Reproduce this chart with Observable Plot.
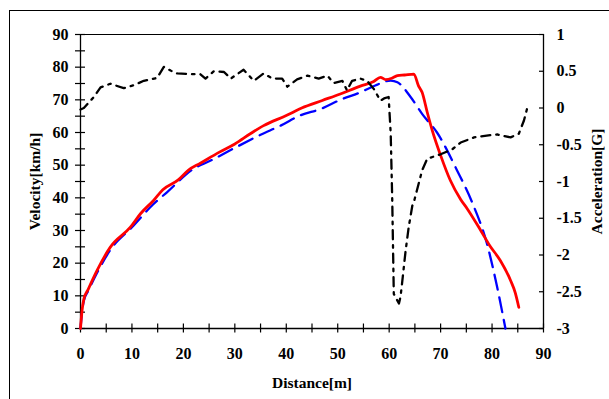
<!DOCTYPE html>
<html><head><meta charset="utf-8">
<script src="https://cdn.jsdelivr.net/npm/d3@7"></script>
<script src="https://cdn.jsdelivr.net/npm/@observablehq/plot@0.6"></script>
<style>
html,body{margin:0;padding:0;background:#fff;overflow:hidden;}
#wrap{position:relative;width:609px;height:399px;overflow:hidden;}
#border{position:absolute;left:9px;top:10px;width:800px;height:600px;border-left:1px solid #000;border-top:1px solid #000;pointer-events:none;}
</style></head><body>
<div id="wrap"><div id="chart"></div><div id="border"></div></div>
<script>
// Measured velocity (red, solid)
const redDist = [0,0.15,0.3,0.65,1.5,3.2,5.8,9.7,11.7,14.2,16,19,21,23.3,27,30,33,35.6,40,43,47,50.5,54.4,57,58.3,59.3,60.5,61.6,63,64.8,65.7,66.4,67.4,68.4,70,71.9,73.9,75.2,77.8,79.5,81.6,83.6,84.5,85.2];
const redVel  = [0,3,5.5,9,12,17.7,24.9,31,35.2,39.2,42.5,45.5,48.5,50.6,54,56.5,59.6,62.1,65.2,67.5,69.8,71.8,74.2,75.6,76.9,76.2,76.6,77.4,77.6,77.9,74.3,72.3,66.2,60.5,53,45.3,39.5,36.6,30,25.5,20.8,14.7,11,6.5];
// Simulated velocity (blue, dashed)
const blueDist = [0,0.3,0.65,1.5,3.2,6,10,14,16.8,22,25.3,30,35,38.9,42.8,46.7,50.5,54.4,57.3,60.3,61.6,64.2,66.4,69.3,73.2,76.1,79,81,82.6];
const blueVel  = [0,5,8.5,11.5,17,24.5,31,37.8,41.7,48.9,51.4,55.3,59.3,62.1,65.3,67.2,70,72.3,74.4,75.9,75.4,70.8,65.7,60,48.4,38.7,26,12.6,0];
// Acceleration [G] (black, dash-dot, right axis)
const accDist = [0,0.65,2.6,3.9,5.8,8.4,10.4,12.3,14.9,16.2,17.5,18.8,21.4,23.3,24.3,25.9,27.9,29.2,31.7,33.7,35.6,37.3,39.2,40.2,42.1,44.1,46.3,48,49.2,50.9,51.8,52.8,54.4,55.7,57,58.3,59,59.9,60.3,60.6,60.9,61.9,62.2,62.5,63.2,63.8,64.5,64.8,66.4,67.4,70,72.3,73.9,76.5,79.7,81,83.6,85.2,86.2,86.8];
const accG    = [-0.02,0.0,0.15,0.28,0.33,0.27,0.31,0.37,0.41,0.56,0.51,0.47,0.46,0.46,0.40,0.5,0.49,0.40,0.52,0.37,0.47,0.40,0.40,0.29,0.39,0.44,0.40,0.44,0.34,0.37,0.24,0.37,0.40,0.37,0.26,0.10,0.13,0.15,-0.35,-1.26,-2.53,-2.66,-2.57,-2.39,-1.94,-1.62,-1.33,-1.28,-0.85,-0.69,-0.63,-0.56,-0.47,-0.40,-0.37,-0.36,-0.40,-0.35,-0.17,-0.01];

const xTicks = [0,10,20,30,40,50,60,70,80,90];
const xMinor = d3.range(0, 91, 5);
const vTicks = [0,10,20,30,40,50,60,70,80,90];
const vMinor = d3.range(0, 91, 5);
const accTicks = [1,0.5,0,-0.5,-1,-1.5,-2,-2.5,-3];

// map acceleration [-3,1] onto the velocity scale [0,90]
const accMin = -3, accMax = 1;
const toV = a => (a - accMin) / (accMax - accMin) * 90;
const toA = v => +(v / 90 * (accMax - accMin) + accMin).toFixed(2);

const red = redDist.map((d, i) => ({d, v: redVel[i]}));
const blue = blueDist.map((d, i) => ({d, v: blueVel[i]}));
const acc = accDist.map((d, i) => ({d, a: accG[i]}));

const font = "'Liberation Serif','Times New Roman',serif";

const chart = Plot.plot({
  width: 609, height: 399,
  marginLeft: 80, marginRight: 66, marginTop: 34, marginBottom: 71,
  x: {domain: [0, 90]},
  y: {domain: [0, 90]},
  style: {fontFamily: font, fontSize: "16px", fontWeight: "bold", color: "#000", background: "transparent"},
  marks: [
    // frame lines
    Plot.ruleY([90], {stroke: "#000", strokeWidth: 1}),
    Plot.ruleY([0], {stroke: "#000", strokeWidth: 1.3}),
    Plot.ruleX([0], {stroke: "#000", strokeWidth: 1.3}),
    Plot.ruleX([90], {stroke: "#000", strokeWidth: 1.3}),
    // x axis: crossing ticks and labels
    Plot.axisX(xMinor, {anchor: "bottom", tickSize: 9, dy: -4.5, tickFormat: () => "", label: null, strokeWidth: 1.2}),
    Plot.axisX(xTicks, {anchor: "bottom", tickSize: 0, tickPadding: 19, label: null, fontWeight: "bold", fontSize: 16}),
    // left y axis
    Plot.axisY(vMinor, {anchor: "left", tickSize: 10, dx: 5, tickFormat: () => "", label: null, strokeWidth: 1.2}),
    Plot.axisY(vTicks, {anchor: "left", tickSize: 0, tickPadding: 12, label: null, fontWeight: "bold", fontSize: 16}),
    // right y axis (acceleration)
    Plot.axisY(accTicks.map(toV), {anchor: "right", tickSize: 5, dx: -5, tickFormat: () => "", label: null, strokeWidth: 1.2}),
    Plot.axisY(accTicks.map(toV), {anchor: "right", tickSize: 0, tickPadding: 13, tickFormat: v => String(toA(v)), label: null, fontWeight: "bold", fontSize: 16, textAnchor: "start"}),
    // series
    Plot.line(blue, {x: "d", y: "v", stroke: "#0000ff", strokeWidth: 2.3, strokeDasharray: "15,8", curve: "monotone-x"}),
    Plot.line(red, {x: "d", y: "v", stroke: "#ff0000", strokeWidth: 2.8, curve: "monotone-x"}),
    Plot.line(acc, {x: "d", y: d => toV(d.a), stroke: "#000", strokeWidth: 2.3, strokeDasharray: "9,6,2.5,6"}),
    // titles
    Plot.text(["Velocity[km/h]"], {text: d => d, frameAnchor: "left", rotate: -90, dx: -45, textAnchor: "middle", lineAnchor: "middle", fontWeight: "bold", fontSize: 15.5}),
    Plot.text(["Acceleration[G]"], {text: d => d, frameAnchor: "right", rotate: -90, dx: 54, textAnchor: "middle", lineAnchor: "middle", fontWeight: "bold", fontSize: 15.5}),
    Plot.text(["Distance[m]"], {text: d => d, frameAnchor: "bottom", dy: 54.5, textAnchor: "middle", lineAnchor: "middle", fontWeight: "bold", fontSize: 15.5})
  ]
});
document.getElementById("chart").appendChild(chart);
</script>
</body></html>
